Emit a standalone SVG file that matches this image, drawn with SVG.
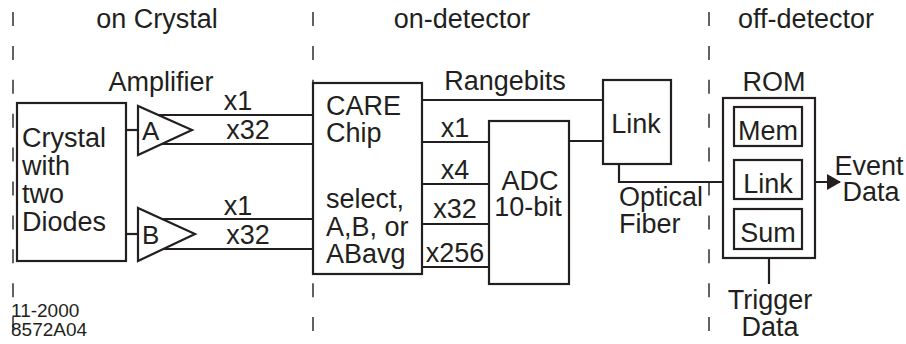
<svg xmlns="http://www.w3.org/2000/svg" width="906" height="344" viewBox="0 0 906 344">
<style>
.b{fill:#fff;stroke:#231f20;stroke-width:2.2}
.l{fill:none;stroke:#231f20;stroke-width:2.2}
.d{fill:none;stroke:#231f20;stroke-width:1.4;stroke-dasharray:14 19.9}
text{font-family:"Liberation Sans",Arial,Helvetica,sans-serif;font-size:27px;fill:#231f20}
.s{font-size:19px}
.m{text-anchor:middle}
</style>
<defs>
<marker id="ah" markerWidth="14" markerHeight="16" refX="13" refY="8" orient="auto" markerUnits="userSpaceOnUse">
<path d="M0,0 L14,8 L0,16 Z" fill="#231f20"/>
</marker>
</defs>
<g id="dividers">
<line class="d" x1="13" y1="12" x2="13" y2="334"/>
<line class="d" x1="313" y1="12" x2="313" y2="334"/>
<line class="d" x1="709" y1="12" x2="709" y2="334"/>
</g>
<g id="headers">
<text class="m" x="157" y="28">on Crystal</text>
<text class="m" x="462" y="28">on-detector</text>
<text class="m" x="806" y="28">off-detector</text>
</g>
<g id="connectors">
<line class="l" x1="126" y1="130" x2="138" y2="130"/>
<line class="l" x1="126" y1="234" x2="138" y2="234"/>
<line class="l" x1="158" y1="115" x2="313" y2="115"/>
<line class="l" x1="162" y1="144" x2="313" y2="144"/>
<line class="l" x1="162" y1="219" x2="313" y2="219"/>
<line class="l" x1="163" y1="249" x2="313" y2="249"/>
<line class="l" x1="422" y1="100" x2="603" y2="100"/>
<line class="l" x1="422" y1="142" x2="489" y2="142"/>
<line class="l" x1="422" y1="184" x2="489" y2="184"/>
<line class="l" x1="422" y1="224" x2="489" y2="224"/>
<line class="l" x1="422" y1="267" x2="489" y2="267"/>
<line class="l" x1="569" y1="141" x2="603" y2="141"/>
<polyline class="l" points="619,164 619,182 723,182"/>
<line class="l" x1="802" y1="182" x2="840" y2="182" marker-end="url(#ah)"/>
<line class="l" x1="769" y1="258" x2="769" y2="284"/>
</g>
<g id="crystal">
<rect class="b" x="17" y="103" width="109" height="158"/>
<text x="22" y="147">Crystal</text>
<text x="22" y="175">with</text>
<text x="22" y="203">two</text>
<text x="22" y="231">Diodes</text>
</g>
<g id="amplifier-label">
<text class="m" x="161" y="91">Amplifier</text>
</g>
<g id="ampA">
<polygon class="b" points="138,106 138,155 192,130"/>
<text x="142" y="140" style="font-size:26px">A</text>
</g>
<g id="ampB">
<polygon class="b" points="138,208 138,261 195,234"/>
<text x="142" y="244" style="font-size:26px">B</text>
</g>
<g id="amp-labels">
<text class="m" x="238" y="110">x1</text>
<text class="m" x="248" y="139">x32</text>
<text class="m" x="238" y="215">x1</text>
<text class="m" x="248" y="244">x32</text>
</g>
<g id="care">
<rect class="b" x="313" y="83" width="109" height="191"/>
<text x="326" y="115">CARE</text>
<text x="326" y="142">Chip</text>
<text x="326" y="208">select,</text>
<text x="326" y="236">A,B, or</text>
<text x="326" y="263">ABavg</text>
</g>
<g id="care-labels">
<text class="m" x="505" y="90">Rangebits</text>
<text class="m" x="455" y="137">x1</text>
<text class="m" x="455" y="179">x4</text>
<text class="m" x="455" y="218">x32</text>
<text class="m" x="455" y="262">x256</text>
</g>
<g id="adc">
<rect class="b" x="489" y="121" width="80" height="163"/>
<text class="m" x="530" y="190">ADC</text>
<text class="m" x="528" y="216">10-bit</text>
</g>
<g id="link">
<rect class="b" x="603" y="80" width="68" height="84"/>
<text class="m" x="636" y="133">Link</text>
</g>
<g id="fiber-label">
<text x="619" y="206">Optical</text>
<text x="619" y="233">Fiber</text>
</g>
<g id="rom">
<rect class="b" x="723" y="98" width="92" height="160"/>
<text class="m" x="774" y="91">ROM</text>
</g>
<g id="mem">
<rect class="b" x="734" y="107" width="68" height="39"/>
<text class="m" x="768" y="140">Mem</text>
</g>
<g id="rom-link">
<rect class="b" x="734" y="160" width="68" height="39"/>
<text class="m" x="768" y="193">Link</text>
</g>
<g id="sum">
<rect class="b" x="734" y="209" width="68" height="40"/>
<text class="m" x="768" y="242">Sum</text>
</g>
<g id="event-label">
<text class="m" x="869" y="175">Event</text>
<text class="m" x="871" y="201">Data</text>
</g>
<g id="trigger-label">
<text class="m" x="770" y="309">Trigger</text>
<text class="m" x="770" y="336">Data</text>
</g>
<g id="stamp">
<text class="s" x="11" y="317">11-2000</text>
<text class="s" x="11" y="336">8572A04</text>
</g>
</svg>
